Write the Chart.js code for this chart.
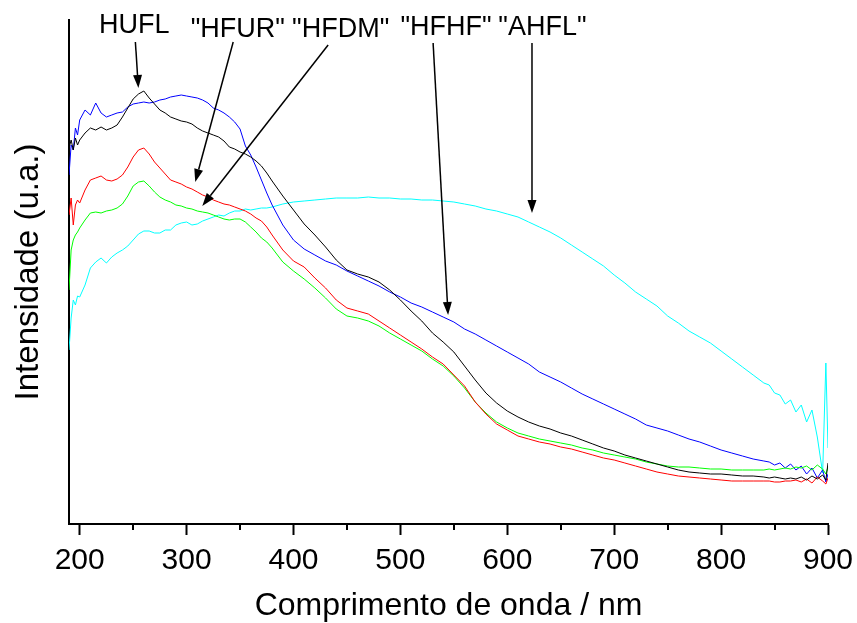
<!DOCTYPE html>
<html>
<head>
<meta charset="utf-8">
<script src="https://cdn.jsdelivr.net/npm/chart.js@4"></script>
<style>
  body { margin: 0; background: #fff; overflow: hidden; }
</style>
</head>
<body>
<canvas id="grafico" width="857" height="623"></canvas>
<script>
// comprimento de onda (nm)
const wavelength = [190, 192, 194, 196, 198,
  200, 205, 210, 215, 220, 225, 230, 235, 240, 245, 250, 255, 260, 265, 270, 275,
  280, 285, 290, 295, 300, 305, 310, 315, 320, 325, 330, 335, 340, 345, 350, 355,
  360, 365, 370, 375, 380,
  390, 400, 410, 420, 430, 440, 450, 460, 470, 480,
  490, 500, 510, 520, 530, 540, 550, 560, 570, 580,
  590, 600, 610, 620, 630, 640, 650, 660, 670, 680,
  690, 700, 710, 720, 730, 740, 750, 760, 770, 780,
  790, 800, 810, 820, 830, 840,
  845, 850, 855, 860, 865, 870, 875, 880, 885, 890, 895, 898, 900];

const hufl = [3.76, 3.84, 3.74, 3.86, 3.79,
  3.84, 3.91, 3.96, 3.94, 3.97, 3.94, 3.96, 3.99, 4.07, 4.16, 4.25, 4.30, 4.33, 4.26, 4.20, 4.14,
  4.11, 4.07, 4.05, 4.03, 4.02, 4.00, 3.96, 3.93, 3.91, 3.89, 3.87, 3.83, 3.77, 3.75, 3.72, 3.70,
  3.67, 3.63, 3.58, 3.51, 3.43,
  3.28, 3.14, 3.00, 2.89, 2.77, 2.64, 2.54, 2.50, 2.47, 2.42,
  2.34, 2.24, 2.13, 2.03, 1.91, 1.82, 1.72, 1.58, 1.44, 1.31,
  1.21, 1.13, 1.07, 1.02, 0.98, 0.95, 0.91, 0.88, 0.84, 0.80,
  0.76, 0.73, 0.69, 0.66, 0.63, 0.60, 0.57, 0.54, 0.52, 0.51,
  0.50, 0.50, 0.49, 0.48, 0.48, 0.47,
  0.46, 0.47, 0.46, 0.45, 0.46, 0.45, 0.47, 0.44, 0.48, 0.45, 0.49, 0.44, 0.61];

const hfur = [3.09, 3.26, 2.99, 3.19, 3.24,
  3.21, 3.34, 3.44, 3.46, 3.48, 3.44, 3.43, 3.45, 3.49, 3.57, 3.67, 3.74, 3.76, 3.70, 3.62, 3.56,
  3.50, 3.44, 3.42, 3.40, 3.37, 3.35, 3.32, 3.29, 3.27, 3.24, 3.22, 3.20, 3.19, 3.17, 3.15, 3.13,
  3.10, 3.06, 3.03, 2.97, 2.89,
  2.74, 2.63, 2.57, 2.46, 2.36, 2.24, 2.16, 2.13, 2.10, 2.03,
  1.96, 1.89, 1.82, 1.75, 1.67, 1.60, 1.49, 1.38, 1.22, 1.10,
  1.00, 0.94, 0.88, 0.85, 0.82, 0.80, 0.77, 0.75, 0.72, 0.69,
  0.66, 0.64, 0.61, 0.58, 0.55, 0.52, 0.50, 0.48, 0.47, 0.46,
  0.45, 0.44, 0.43, 0.43, 0.43, 0.43,
  0.43, 0.42, 0.42, 0.43, 0.43, 0.44, 0.42, 0.45, 0.41, 0.47, 0.43, 0.40, 0.46];

const hfdm = [2.34, 2.74, 2.84, 2.89, 2.92,
  2.96, 3.04, 3.11, 3.12, 3.11, 3.13, 3.14, 3.16, 3.20, 3.28, 3.38, 3.42, 3.43, 3.38, 3.32, 3.27,
  3.24, 3.22, 3.19, 3.18, 3.16, 3.15, 3.13, 3.12, 3.11, 3.09, 3.07, 3.05, 3.04, 3.05, 3.05, 3.02,
  2.97, 2.92, 2.86, 2.82, 2.76,
  2.62, 2.53, 2.45, 2.36, 2.26, 2.15, 2.08, 2.06, 2.03, 1.98,
  1.91, 1.85, 1.79, 1.73, 1.65, 1.58, 1.48, 1.36, 1.22, 1.11,
  1.02, 0.96, 0.91, 0.88, 0.85, 0.83, 0.81, 0.79, 0.76, 0.74,
  0.71, 0.69, 0.67, 0.65, 0.62, 0.60, 0.58, 0.57, 0.57, 0.56,
  0.55, 0.55, 0.54, 0.54, 0.54, 0.54,
  0.55, 0.54, 0.55, 0.56, 0.55, 0.57, 0.56, 0.58, 0.54, 0.59, 0.55, 0.50, 0.57];

const hfhf = [3.49, 3.79, 3.74, 3.96, 3.89,
  4.04, 4.14, 4.09, 4.21, 4.11, 4.07, 4.09, 4.11, 4.12, 4.17, 4.20, 4.21, 4.22, 4.21, 4.22, 4.24,
  4.25, 4.27, 4.28, 4.29, 4.28, 4.27, 4.26, 4.24, 4.21, 4.16, 4.14, 4.11, 4.07, 4.02, 3.95, 3.78,
  3.69, 3.57, 3.44, 3.31, 3.19,
  2.99, 2.84, 2.75, 2.69, 2.63, 2.59, 2.53, 2.48, 2.43, 2.38,
  2.32, 2.27, 2.21, 2.17, 2.12, 2.07, 2.02, 1.95, 1.90, 1.84,
  1.78, 1.72, 1.66, 1.60, 1.52, 1.47, 1.42, 1.36, 1.30, 1.25,
  1.20, 1.15, 1.10, 1.05, 0.99, 0.96, 0.93, 0.89, 0.85, 0.82,
  0.78, 0.74, 0.71, 0.68, 0.65, 0.63,
  0.62, 0.59, 0.61, 0.56, 0.60, 0.54, 0.58, 0.50, 0.56, 0.46, 0.54, 0.42, 0.50];

const ahfl = [1.74, 2.06, 2.24, 2.19, 2.28,
  2.27, 2.39, 2.56, 2.62, 2.66, 2.61, 2.67, 2.71, 2.74, 2.78, 2.84, 2.90, 2.93, 2.93, 2.91, 2.91,
  2.94, 2.94, 2.99, 3.01, 3.02, 2.99, 3.00, 3.03, 3.05, 3.07, 3.09, 3.08, 3.11, 3.13, 3.13, 3.15,
  3.14, 3.15, 3.16, 3.16, 3.17,
  3.20, 3.22, 3.23, 3.24, 3.25, 3.26, 3.26, 3.26, 3.27, 3.26,
  3.26, 3.25, 3.25, 3.24, 3.24, 3.23, 3.22, 3.20, 3.18, 3.15,
  3.13, 3.10, 3.07, 3.02, 2.97, 2.92, 2.86, 2.79, 2.72, 2.65,
  2.58, 2.49, 2.41, 2.32, 2.25, 2.18, 2.08, 2.01, 1.93, 1.87,
  1.81, 1.73, 1.65, 1.57, 1.49, 1.41,
  1.39, 1.31, 1.29, 1.20, 1.24, 1.12, 1.19, 1.02, 1.14, 0.87, 0.51, 1.61, 0.76];

const seriesNames = ['HUFL', 'HFUR', 'HFDM', 'HFHF', 'AHFL'];
const seriesValues = [hufl, hfur, hfdm, hfhf, ahfl];
const seriesColors = ['#000000', '#ff0000', '#00ff00', '#0000ff', '#00ffff'];

const xTicks = [200, 300, 400, 500, 600, 700, 800, 900];
const xMinorTicks = [250, 350, 450, 550, 650, 750, 850];

// setas: texto, posicao do texto e da seta (nm, intensidade)
const noteText = ['HUFL', '"HFUR"', '"HFDM"', '"HFHF"', '"AHFL"'];
const noteAt = [[251.1, 4.91], [347.9, 4.87], [444.1, 4.87], [542.7, 4.89], [632.9, 4.89]];
const arrowFrom = [[252.1, 4.82], [343.6, 4.82], [432.4, 4.79], [530.6, 4.81], [623.1, 4.81]];
const arrowTo = [[254.9, 4.36], [308.1, 3.42], [314.7, 3.18], [544.6, 2.09], [623.1, 3.11]];

const fonte = '"Liberation Sans", Arial, sans-serif';
Chart.defaults.font.family = fonte;
Chart.defaults.color = '#000';

const notas = {
  id: 'notas',
  afterDraw(chart) {
    const ctx = chart.ctx;
    const sx = chart.scales.x, sy = chart.scales.y;
    ctx.save();
    ctx.fillStyle = '#000';
    ctx.strokeStyle = '#000';

    // minor ticks
    ctx.lineWidth = 2;
    xMinorTicks.forEach(function(v) {
      const px = Math.round(sx.getPixelForValue(v));
      ctx.beginPath();
      ctx.moveTo(px, sx.top);
      ctx.lineTo(px, sx.top + 6);
      ctx.stroke();
    });

    ctx.font = '27px ' + fonte;
    ctx.textAlign = 'center';
    ctx.textBaseline = 'alphabetic';
    noteText.forEach(function(t, i) {
      ctx.fillText(t, sx.getPixelForValue(noteAt[i][0]), sy.getPixelForValue(noteAt[i][1]));
      const x0 = sx.getPixelForValue(arrowFrom[i][0]), y0 = sy.getPixelForValue(arrowFrom[i][1]);
      const x1 = sx.getPixelForValue(arrowTo[i][0]), y1 = sy.getPixelForValue(arrowTo[i][1]);
      const ang = Math.atan2(y1 - y0, x1 - x0);
      const head = 13, half = 4.5;
      const bx = x1 - head * Math.cos(ang), by = y1 - head * Math.sin(ang);
      ctx.lineWidth = 1.5;
      ctx.beginPath();
      ctx.moveTo(x0, y0);
      ctx.lineTo(bx, by);
      ctx.stroke();
      ctx.beginPath();
      ctx.moveTo(x1, y1);
      ctx.lineTo(bx + half * Math.sin(ang), by - half * Math.cos(ang));
      ctx.lineTo(bx - half * Math.sin(ang), by + half * Math.cos(ang));
      ctx.closePath();
      ctx.fill();
    });
    ctx.restore();
  }
};

const datasets = seriesNames.map(function(nome, i) {
  return {
    label: nome,
    data: wavelength.map(function(w, k) { return { x: w, y: seriesValues[i][k] }; }),
    borderColor: seriesColors[i],
    borderWidth: 1,
    pointRadius: 0,
    tension: 0,
    fill: false
  };
});

new Chart(document.querySelector('#grafico'), {
  type: 'line',
  data: { datasets: datasets },
  options: {
    responsive: false,
    animation: false,
    events: [],
    layout: { padding: { top: 20, right: 29, left: 0, bottom: 0 } },
    plugins: { legend: { display: false }, tooltip: { enabled: false } },
    scales: {
      x: {
        type: 'linear',
        min: 190,
        max: 900,
        afterBuildTicks: function(s) { s.ticks = xTicks.map(function(v) { return { value: v }; }); },
        afterFit: function(s) { s.height = 99; s.paddingLeft = 0; s.paddingRight = 0; },
        grid: { drawOnChartArea: false, drawTicks: true, tickLength: 11, tickWidth: 2, tickColor: '#000' },
        border: { display: true, color: '#000', width: 2 },
        ticks: { color: '#000', font: { size: 30 }, padding: 8, maxRotation: 0, autoSkip: false },
        title: { display: true, text: 'Comprimento de onda / nm', color: '#000', font: { size: 32 }, padding: { bottom: -2 } }
      },
      y: {
        min: 0,
        max: 5.04,
        afterFit: function(s) { s.width = 69; },
        grid: { drawOnChartArea: false, drawTicks: false },
        border: { display: true, color: '#000', width: 2 },
        ticks: { display: false },
        title: { display: true, text: 'Intensidade (u.a.)', color: '#000', font: { size: 33 }, padding: { top: 9 } }
      }
    }
  },
  plugins: [notas]
});
</script>
</body>
</html>
